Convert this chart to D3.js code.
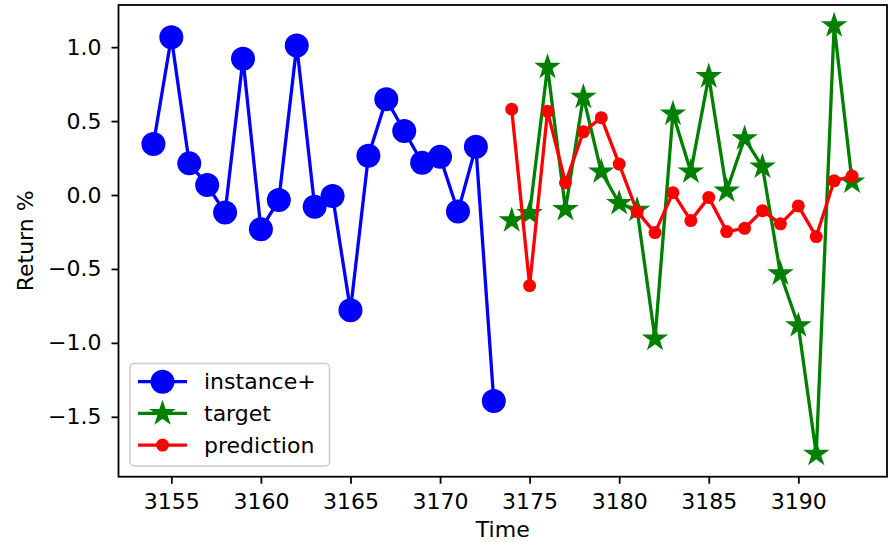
<!DOCTYPE html>
<html>
<head>
<meta charset="utf-8">
<script src="https://cdn.jsdelivr.net/npm/d3@7"></script>
<style>
  body { margin: 0; background: #fff; }
  svg { display: block; font-family: "DejaVu Sans", sans-serif; }
</style>
</head>
<body>
<div class="canvas"></div>
<script>
// time steps
const instanceTime = d3.range(3154, 3174);
const futureTime = d3.range(3174, 3194);

// values
const instanceValues = [
  0.345, 1.067, 0.214, 0.067, -0.119, 0.921, -0.231, -0.034, 1.011, -0.079,
  -0.007, -0.78, 0.265, 0.647, 0.433, 0.218, 0.258, -0.112, 0.326, -1.393,
];
const targetValues = [
  -0.173, -0.124, 0.865, -0.097, 0.663, 0.157, -0.056, -0.101, -0.973, 0.55,
  0.157, 0.802, 0.029, 0.382, 0.191, -0.532, -0.883, -1.752, 1.146, 0.09,
];
const predictionValues = [
  0.58, -0.613, 0.566, 0.083, 0.427, 0.523, 0.209, -0.112, -0.254, 0.016,
  -0.173, -0.016, -0.247, -0.225, -0.106, -0.195, -0.074, -0.281, 0.096, 0.128,
];

const xTicks = [3155, 3160, 3165, 3170, 3175, 3180, 3185, 3190];
const yTicks = [-1.5, -1.0, -0.5, 0.0, 0.5, 1.0];

const WIDTH = 890,
  HEIGHT = 542,
  PLOT = { left: 118.5, right: 887, top: 5, bottom: 476.7 },
  FONT = 22;

const series = [
  { name: "instance+", time: instanceTime, values: instanceValues, color: "#0000ff", marker: "circle", size: 12 },
  { name: "target", time: futureTime, values: targetValues, color: "#008000", marker: "star", size: 11.5 },
  { name: "prediction", time: futureTime, values: predictionValues, color: "#ff0000", marker: "circle", size: 6.5 },
];

const x = d3.scaleLinear().domain([3152.05, 3194.95]).range([PLOT.left, PLOT.right]);
const y = d3.scaleLinear().domain([-1.905, 1.285]).range([PLOT.bottom, PLOT.top]);

const svg = d3
  .select(".canvas")
  .append("svg")
  .attr("width", WIDTH)
  .attr("height", HEIGHT);

function starPath(r) {
  const inner = r * 0.381966;
  const pts = d3.range(10).map((i) => {
    const rad = i % 2 === 0 ? r : inner;
    const a = (i * Math.PI) / 5 - Math.PI / 2;
    return [rad * Math.cos(a), rad * Math.sin(a)];
  });
  return "M" + pts.map((p) => p.join(",")).join("L") + "Z";
}

function drawMarker(g, s) {
  if (s.marker === "star") {
    g.append("path").attr("d", starPath(s.size)).attr("fill", s.color)
      .attr("stroke", s.color).attr("stroke-width", 1.5).attr("stroke-linejoin", "miter");
  } else {
    g.append("circle").attr("r", s.size).attr("fill", s.color);
  }
}

// data lines and markers
const line = d3.line().x((d) => x(d[0])).y((d) => y(d[1]));

series.forEach((s) => {
  const pts = s.time.map((t, i) => [t, s.values[i]]);
  svg.append("path")
    .attr("d", line(pts))
    .attr("fill", "none")
    .attr("stroke", s.color)
    .attr("stroke-width", 3.3)
    .attr("stroke-linejoin", "round");
  pts.forEach((p) => {
    const g = svg.append("g").attr("transform", `translate(${x(p[0])},${y(p[1])})`);
    drawMarker(g, s);
  });
});

// axes
const xAxis = svg.append("g")
  .attr("transform", `translate(0,${PLOT.bottom})`)
  .call(d3.axisBottom(x).tickValues(xTicks).tickFormat(d3.format("d")).tickSize(7).tickPadding(9.5).tickSizeOuter(0));
const yAxis = svg.append("g")
  .attr("transform", `translate(${PLOT.left},0)`)
  .call(d3.axisLeft(y).tickValues(yTicks).tickFormat(d3.format(".1f")).tickSize(7).tickPadding(10).tickSizeOuter(0));

[xAxis, yAxis].forEach((a) => {
  a.select(".domain").remove();
  a.selectAll(".tick line").attr("stroke", "#000").attr("stroke-width", 1.8);
  a.selectAll(".tick text").attr("fill", "#000").style("font-size", FONT + "px")
    .style("font-family", "DejaVu Sans");
});
yAxis.selectAll(".tick text").text((d) => d3.format(".1f")(d).replace("-", "\u2212"));

// frame
svg.append("rect")
  .attr("x", PLOT.left)
  .attr("y", PLOT.top)
  .attr("width", PLOT.right - PLOT.left)
  .attr("height", PLOT.bottom - PLOT.top)
  .attr("fill", "none")
  .attr("stroke", "#000")
  .attr("stroke-width", 1.8);

// axis labels
svg.append("text")
  .attr("x", (PLOT.left + PLOT.right) / 2)
  .attr("y", 537)
  .attr("text-anchor", "middle")
  .style("font-size", FONT + "px")
  .text("Time");

svg.append("text")
  .attr("transform", `translate(33,${(PLOT.top + PLOT.bottom) / 2}) rotate(-90)`)
  .attr("text-anchor", "middle")
  .style("font-size", FONT + "px")
  .text("Return %");

// legend
const legend = svg.append("g");
legend.append("rect")
  .attr("x", 130)
  .attr("y", 363.5)
  .attr("width", 199.5)
  .attr("height", 102.5)
  .attr("rx", 4)
  .attr("fill", "#fff")
  .attr("fill-opacity", 0.8)
  .attr("stroke", "#cccccc")
  .attr("stroke-width", 1.5);

const legendItem = legend.selectAll("g.item")
  .data(series)
  .enter()
  .append("g")
  .attr("class", "item")
  .attr("transform", (d, i) => `translate(0,${381.7 + i * 31.7})`);

legendItem.append("line")
  .attr("x1", 138).attr("x2", 187)
  .attr("stroke", (d) => d.color)
  .attr("stroke-width", 3.3);

legendItem.each(function (d) {
  const g = d3.select(this).append("g").attr("transform", "translate(162.5,0)");
  drawMarker(g, d);
});

legendItem.append("text")
  .attr("x", 204)
  .attr("dy", "0.35em")
  .style("font-size", FONT + "px")
  .text((d) => d.name);
</script>
</body>
</html>
